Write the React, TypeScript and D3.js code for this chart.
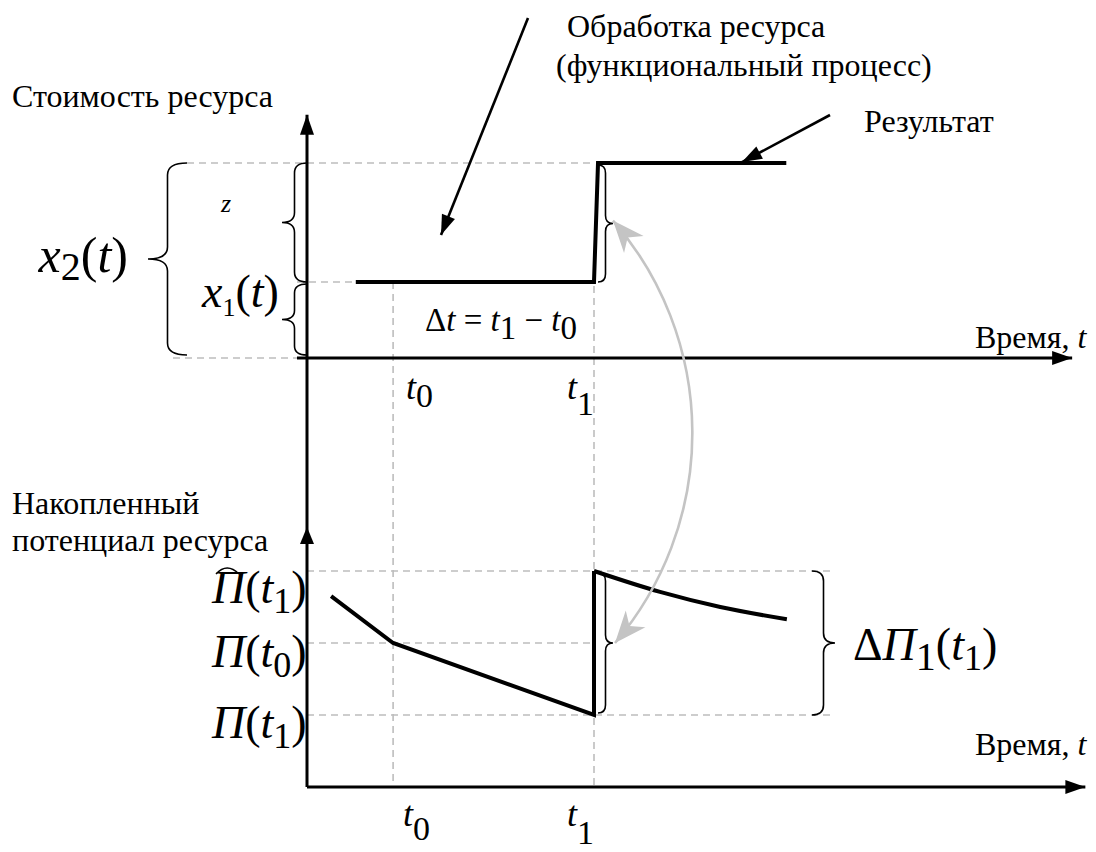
import React from 'react';
import * as d3 from 'd3';

// time marks and levels
const T0 = 1.5;
const T1 = 5;
const timeMarks = [
  { sub: '0', t: T0 },
  { sub: '1', t: T1 },
];

// top plot: cost of resource
const costTimes = [0.85, 5, 5.07, 8.35];
const costValues = [2, 2, 5.13, 5.13];
const costLevels = [0, 2, 5.13]; // base, x1, x2

// bottom plot: accumulated potential
const fallTimes = [0.42, 1.5, 5, 5];
const fallValues = [2.65, 2, 1, 3];
const decayTimes = [5, 6.15, 7.2, 8.36];
const decayValues = [3, 2.71, 2.5, 2.33];
const potentialLevels = [1, 2, 3]; // П(t1), П(t0), П^(t1)

const SERIF = 'Liberation Serif';
const GRID = '#bdbdbd';

const brace = (x0: number, ya: number, yb: number, w: number, r: number) => {
  const ym = (ya + yb) / 2;
  const xs = x0 + w / 2;
  const xt = x0 + w;
  return `M${x0},${ya} Q${xs},${ya} ${xs},${ya + r} L${xs},${ym - r} Q${xs},${ym} ${xt},${ym} Q${xs},${ym} ${xs},${ym + r} L${xs},${yb - r} Q${xs},${yb} ${x0},${yb}`;
};

const T = (props: any) => (
  <text fontFamily={SERIF} style={{ fontFamily: SERIF }} fill='#000' {...props} />
);

const App = () => {
  const width = 1096;
  const height = 852;

  const x = d3.scaleLinear().domain([0, 10]).range([307, 881]);
  const yTop = d3.scaleLinear().domain([0, 7]).range([358, 92]);
  const yBot = d3.scaleLinear().domain([0, 3]).range([787, 571]);

  const lineTop = d3
    .line<number>()
    .x((d, i) => x(costTimes[i]))
    .y((d) => yTop(d));
  const lineFall = d3
    .line<number>()
    .x((d, i) => x(fallTimes[i]))
    .y((d) => yBot(d));
  const lineDecay = d3
    .line<number>()
    .x((d, i) => x(decayTimes[i]))
    .y((d) => yBot(d))
    .curve(d3.curveMonotoneX);

  const ax = x(0);
  const xt0 = x(T0);
  const xt1 = x(T1);
  const [b0, b1, b2] = costLevels.map((v) => yTop(v));
  const [p1, p0, pHat] = potentialLevels.map((v) => yBot(v));

  // gray double arrow (circular arc)
  const arcStart = [xt1 + 19, (b1 + b2) / 2 - 2];
  const arcEnd = [xt1 + 21, p0];

  return (
    <svg
      width={width}
      height={height}
      style={{ position: 'absolute', left: 0, top: 0, background: '#fff', fontFamily: SERIF }}
    >
      <defs>
        <marker id='head' markerUnits='userSpaceOnUse' markerWidth='30' markerHeight='30'
          viewBox='-24 -12 30 24' refX='0' refY='0' orient='auto'>
          <path d='M0,0 L-20,-7 L-20,7 Z' fill='#000' />
        </marker>
        <marker id='gray' markerUnits='userSpaceOnUse' markerWidth='40' markerHeight='40'
          viewBox='-30 -15 34 30' refX='0' refY='0' orient='auto-start-reverse'>
          <path d='M0,0 L-27,-11 L-19,0 L-27,11 Z' fill='#c4c4c4' />
        </marker>
      </defs>

      {/* dashed guides */}
      <g stroke={GRID} strokeWidth={1.6} strokeDasharray='7,5' fill='none'>
        <line x1={187} y1={b2} x2={xt1} y2={b2} />
        <line x1={ax - 10} y1={b1} x2={x(costTimes[0])} y2={b1} />
        <line x1={173} y1={b0} x2={ax - 10} y2={b0} />
        <line x1={xt0} y1={b1} x2={xt0} y2={yBot(0)} />
        <line x1={xt1} y1={b1 + 4} x2={xt1} y2={yBot(0)} />
        <line x1={ax} y1={pHat} x2={832} y2={pHat} />
        <line x1={ax} y1={p0} x2={xt1} y2={p0} />
        <line x1={ax} y1={p1} x2={832} y2={p1} />
      </g>

      {/* axes */}
      <g stroke='#000' strokeWidth={3} fill='none'>
        <line x1={ax} y1={yBot(0)} x2={ax} y2={yTop(6.4)} markerEnd='url(#head)' />
        <line x1={ax - 10} y1={b0} x2={x(13.33)} y2={b0} markerEnd='url(#head)' />
        <line x1={ax} y1={yBot(0)} x2={x(13.56)} y2={yBot(0)} markerEnd='url(#head)' />
      </g>
      <path d={`M${ax},${yBot(3.61)} L${ax - 7},${yBot(3.61) + 17} L${ax + 7},${yBot(3.61) + 17} Z`} fill='#000' />

      {/* data lines */}
      <g stroke='#000' strokeWidth={4} fill='none'>
        <path d={lineTop(costValues) || ''} />
        <path d={lineFall(fallValues) || ''} />
        <path d={lineDecay(decayValues) || ''} />
      </g>

      {/* braces */}
      <g stroke='#000' strokeWidth={1.6} fill='none'>
        <path d={brace(187, b2, b0 - 3, -39, 12)} />
        <path d={brace(ax, b2, b1, -25, 10)} />
        <path d={brace(ax, b1 + 2, b0 - 3, -25, 9)} />
        <path d={brace(xt1 + 4, b2 + 2, b1, 15, 8)} />
        <path d={brace(xt1 + 4, pHat + 2, p1 - 2, 15, 8)} />
        <path d={brace(812, pHat, p1, 23, 10)} />
      </g>

      {/* black pointer arrows */}
      <g stroke='#000' strokeWidth={2.6} fill='none'>
        <line x1={528} y1={18} x2={441} y2={235} markerEnd='url(#head)' />
        <line x1={830} y1={115} x2={742} y2={b2 - 1} markerEnd='url(#head)' />
      </g>

      {/* gray double arrow */}
      <path
        d={`M${arcStart[0]},${arcStart[1]} A324,324 0 0 1 ${arcEnd[0]},${arcEnd[1]}`}
        stroke='#c4c4c4'
        strokeWidth={2.6}
        fill='none'
        markerStart='url(#gray)'
        markerEnd='url(#gray)'
      />

      {/* captions */}
      <T x={567} y={37} fontSize={32}>Обработка ресурса</T>
      <T x={556} y={76} fontSize={32}>(функциональный процесс)</T>
      <T x={12} y={107} fontSize={32}>Стоимость ресурса</T>
      <T x={864} y={132} fontSize={32}>Результат</T>
      <T x={12} y={514} fontSize={32}>Накопленный</T>
      <T x={12} y={551} fontSize={32}>потенциал ресурса</T>
      <T x={975} y={348} fontSize={32}>
        Время, <tspan fontStyle='italic'>t</tspan>
      </T>
      <T x={975} y={755} fontSize={32}>
        Время, <tspan fontStyle='italic'>t</tspan>
      </T>

      {/* math labels, top */}
      <T x={128} y={272} fontSize={50} textAnchor='end'>
        <tspan fontStyle='italic'>x</tspan>
        <tspan fontSize={40} dy={8}>2</tspan>
        <tspan dy={-8}>(</tspan>
        <tspan fontStyle='italic'>t</tspan>)
      </T>
      <T x={221} y={212} fontSize={26} fontStyle='italic'>z</T>
      <T x={202} y={307} fontSize={46}>
        <tspan fontStyle='italic'>x</tspan>
        <tspan fontSize={26} dy={9}>1</tspan>
        <tspan dy={-9}>(</tspan>
        <tspan fontStyle='italic'>t</tspan>)
      </T>
      <T x={425} y={331} fontSize={33}>
        Δ<tspan fontStyle='italic'>t</tspan> = <tspan fontStyle='italic'>t</tspan>
        <tspan dy={8}>1</tspan>
        <tspan dy={-8}> − </tspan>
        <tspan fontStyle='italic'>t</tspan>
        <tspan dy={8}>0</tspan>
      </T>
      {timeMarks.map((m) => (
        <g key={m.sub}>
          <T x={x(m.t) + (m.sub === '0' ? 13 : -27)} y={399} fontSize={36}>
            <tspan fontStyle='italic'>t</tspan>
            <tspan fontSize={34} dy={m.sub === '0' ? 8 : 16}>{m.sub}</tspan>
          </T>
          <T x={x(m.t) + (m.sub === '0' ? 10 : -27)} y={826} fontSize={36}>
            <tspan fontStyle='italic'>t</tspan>
            <tspan fontSize={34} dy={m.sub === '0' ? 14 : 18}>{m.sub}</tspan>
          </T>
        </g>
      ))}

      {/* math labels, bottom */}
      <T x={212} y={603} fontSize={46}>
        <tspan fontStyle='italic'>Π</tspan>(<tspan fontStyle='italic'>t</tspan>
        <tspan fontSize={36} dy={10}>1</tspan>
        <tspan dy={-10}>)</tspan>
      </T>
      <path d='M216,574 Q227,562 239,574' stroke='#000' strokeWidth={1.5} fill='none' />
      <T x={212} y={667} fontSize={46}>
        <tspan fontStyle='italic'>Π</tspan>(<tspan fontStyle='italic'>t</tspan>
        <tspan fontSize={36} dy={10}>0</tspan>
        <tspan dy={-10}>)</tspan>
      </T>
      <T x={212} y={738} fontSize={46}>
        <tspan fontStyle='italic'>Π</tspan>(<tspan fontStyle='italic'>t</tspan>
        <tspan fontSize={36} dy={10}>1</tspan>
        <tspan dy={-10}>)</tspan>
      </T>
      <T x={853} y={660} fontSize={46}>
        Δ<tspan fontStyle='italic'>Π</tspan>
        <tspan fontSize={40} dy={10}>1</tspan>
        <tspan dy={-10}>(</tspan>
        <tspan fontStyle='italic'>t</tspan>
        <tspan fontSize={36} dy={10}>1</tspan>
        <tspan dy={-10}>)</tspan>
      </T>
    </svg>
  );
};

export default App;
